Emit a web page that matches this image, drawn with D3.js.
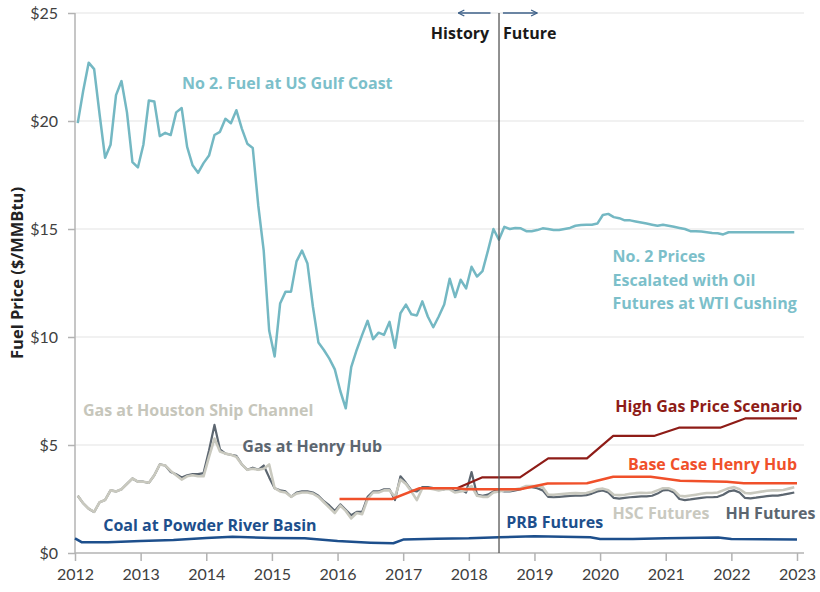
<!DOCTYPE html>
<html>
<head>
<meta charset="utf-8">
<script src="https://cdn.jsdelivr.net/npm/d3@7"></script>
<style>
  body { margin: 0; background: #fff; }
  text { font-family: Lato, "Open Sans", sans-serif; }
</style>
</head>
<body>
<script>
// Data ($/MMBtu)
var yearTicks = [2012, 2013, 2014, 2015, 2016, 2017, 2018, 2019, 2020, 2021, 2022, 2023];
var priceTicks = [0, 5, 10, 15, 20, 25];
var splitYear = 2018.46; // history / future divider

// monthly history Jan 2012 - Jun 2018
var no2History = [
  19.9, 21.4, 22.7, 22.4, 20.3, 18.3, 18.9, 21.2, 21.85, 20.4, 18.1, 17.85,
  18.9, 20.95, 20.9, 19.3, 19.45, 19.35, 20.4, 20.6, 18.8, 17.95, 17.6, 18.05,
  18.4, 19.35, 19.5, 20.1, 19.9, 20.5, 19.65, 18.95, 18.75, 16.1, 14.0, 10.3,
  9.1, 11.55, 12.1, 12.1, 13.5, 14.0, 13.4, 11.4, 9.75, 9.4, 9.0, 8.5,
  7.5, 6.7, 8.6, 9.4, 10.1, 10.75, 9.9, 10.2, 10.1, 10.7, 9.5, 11.1,
  11.5, 11.05, 11.0, 11.65, 10.95, 10.45, 10.95, 11.5, 12.7, 11.85, 12.65, 12.25,
  13.25, 12.8, 13.05, 14.0, 15.0, 14.5
];
var hscHistory = [
  2.65, 2.3, 2.05, 1.9, 2.35, 2.45, 2.9, 2.85, 2.95, 3.2, 3.45, 3.3,
  3.3, 3.25, 3.6, 4.1, 4.05, 3.8, 3.6, 3.4, 3.55, 3.6, 3.55, 3.55,
  4.45, 5.3, 4.7, 4.6, 4.55, 4.45, 4.1, 3.85, 3.9, 3.85, 3.9, 4.1,
  3.0, 2.85, 2.8, 2.6, 2.75, 2.8, 2.8, 2.75, 2.6, 2.35, 2.1, 1.85,
  2.2, 1.95, 1.6, 1.85, 1.8, 2.5, 2.8, 2.8, 2.9, 2.9, 2.6, 3.4,
  3.2, 2.85, 2.45, 3.0, 3.0, 2.95, 2.9, 2.95, 2.95, 2.8, 2.85, 2.9,
  3.1, 2.65, 2.6, 2.6, 2.8, 2.85
];
var hhHistory = [
  2.65, 2.3, 2.05, 1.9, 2.35, 2.45, 2.9, 2.85, 2.95, 3.2, 3.45, 3.3,
  3.3, 3.25, 3.6, 4.1, 4.05, 3.75, 3.65, 3.5, 3.6, 3.65, 3.65, 3.7,
  4.75, 5.93, 4.8, 4.6, 4.55, 4.5, 4.1, 3.85, 3.95, 3.85, 4.05, 3.5,
  3.0, 2.9, 2.85, 2.6, 2.8, 2.85, 2.85, 2.8, 2.65, 2.4, 2.2, 1.95,
  2.25, 2.0, 1.75, 1.9, 1.9, 2.6, 2.85, 2.85, 2.95, 2.95, 2.45, 3.55,
  3.25, 2.9, 2.85, 3.05, 3.05, 3.0, 2.95, 2.95, 3.0, 2.85, 2.95, 2.8,
  3.75, 2.7, 2.65, 2.7, 2.85, 2.9
];

// monthly futures Jul 2018 - Dec 2022
var no2Futures = [
  15.1, 15.0, 15.05, 15.03, 14.9, 14.9,
  14.95, 15.03, 15.0, 14.95, 14.95, 15.0, 15.05, 15.15, 15.18, 15.2, 15.2, 15.25,
  15.65, 15.7, 15.55, 15.5, 15.4, 15.4, 15.35, 15.3, 15.25, 15.2, 15.15, 15.2,
  15.15, 15.1, 15.05, 15.0, 14.9, 14.9, 14.88, 14.85, 14.82, 14.8, 14.75, 14.85,
  14.85, 14.85, 14.85, 14.85, 14.85, 14.85, 14.85, 14.85, 14.85, 14.85, 14.85, 14.85
];
var hscFutures = [
  2.9, 2.9, 2.95, 3.0, 3.1, 3.1,
  3.1, 3.05, 2.7, 2.7, 2.72, 2.74, 2.76, 2.77, 2.76, 2.78, 2.85, 2.95,
  2.98, 2.9, 2.7, 2.68, 2.7, 2.74, 2.77, 2.79, 2.78, 2.8, 2.9, 3.0,
  3.0, 2.9, 2.65, 2.62, 2.66, 2.7, 2.74, 2.78, 2.78, 2.8, 2.9, 3.0,
  3.05, 2.95, 2.78, 2.76, 2.8, 2.84, 2.88, 2.9, 2.9, 2.92, 2.98, 3.04
];
var hhFutures = [
  2.85, 2.85, 2.9, 2.95, 3.05, 3.05,
  3.0, 2.9, 2.6, 2.58, 2.6, 2.62, 2.64, 2.66, 2.65, 2.68, 2.75, 2.85,
  2.9, 2.8, 2.55, 2.52, 2.55, 2.58, 2.6, 2.62, 2.62, 2.65, 2.75, 2.9,
  2.92, 2.8, 2.5, 2.45, 2.48, 2.52, 2.55, 2.58, 2.58, 2.6, 2.7, 2.85,
  2.9, 2.8, 2.55, 2.53, 2.56, 2.6, 2.63, 2.66, 2.66, 2.7, 2.75, 2.8
];

// scenario lines (year, value)
var baseCaseYears  = [2016.03, 2016.83, 2017.25, 2017.82, 2017.97, 2018.78, 2019.2, 2019.8, 2020.2, 2020.77, 2021.22, 2021.93, 2022.19, 2023.0];
var baseCaseValues = [2.5, 2.5, 3.0, 3.0, 2.95, 2.95, 3.22, 3.23, 3.53, 3.53, 3.35, 3.3, 3.23, 3.23];
var highGasYears  = [2017.82, 2018.2, 2018.78, 2019.21, 2019.8, 2020.2, 2020.82, 2021.2, 2021.83, 2022.21, 2023.0];
var highGasValues = [3.0, 3.5, 3.5, 4.38, 4.38, 5.42, 5.42, 5.8, 5.8, 6.23, 6.23];

// coal at Powder River Basin + PRB futures (year, value)
var coalYears  = [2012.0, 2012.1, 2012.5, 2013.0, 2013.5, 2014.0, 2014.4, 2015.0, 2015.5, 2016.0, 2016.5, 2016.85, 2017.0, 2017.5, 2018.0, 2018.46];
var coalValues = [0.68, 0.5, 0.5, 0.55, 0.6, 0.7, 0.75, 0.7, 0.68, 0.55, 0.48, 0.45, 0.62, 0.66, 0.68, 0.73];
var prbYears  = [2019.0, 2019.85, 2020.0, 2020.5, 2021.0, 2021.8, 2022.0, 2023.0];
var prbValues = [0.78, 0.73, 0.65, 0.65, 0.68, 0.72, 0.65, 0.63];

// Layout
var W = 820, H = 592;
var margin = { top: 13, right: 23, bottom: 39, left: 75 };
var labelFont = '"Open Sans", sans-serif';

var svg = d3.select('body').append('svg')
    .attr('width', W)
    .attr('height', H);

var x = d3.scaleLinear().domain([2012, 2023]).range([margin.left, W - margin.right]);
var y = d3.scaleLinear().domain([0, 25]).range([H - margin.bottom, margin.top]);

function monthly(values, startYear, startMonth) {
  return values.map(function (v, i) {
    return [startYear + (startMonth + i + 0.5) / 12, v];
  });
}
function paired(years, values) {
  return years.map(function (t, i) { return [t, values[i]]; });
}

var no2 = monthly(no2History, 2012, 0).concat(monthly(no2Futures, 2018, 6));
var hsc = monthly(hscHistory, 2012, 0).concat(monthly(hscFutures, 2018, 6));
var hh = monthly(hhHistory, 2012, 0).concat(monthly(hhFutures, 2018, 6));
var coal = paired(coalYears, coalValues).concat(paired(prbYears, prbValues));
var baseCase = paired(baseCaseYears, baseCaseValues);
var highGas = paired(highGasYears, highGasValues);

// gridlines
svg.append('g')
  .selectAll('line')
  .data(priceTicks.filter(function (d) { return d > 0; }))
  .enter().append('line')
    .attr('x1', x(2012)).attr('x2', x(2023) + 7)
    .attr('y1', function (d) { return y(d); })
    .attr('y2', function (d) { return y(d); })
    .attr('stroke', '#ededed')
    .attr('stroke-width', 1.5);

// axes
var yAxis = d3.axisLeft(y).tickValues(priceTicks).tickSize(7).tickPadding(10)
  .tickFormat(function (d) { return '$' + d; });
var xAxis = d3.axisBottom(x).tickValues(yearTicks).tickSize(8).tickPadding(8)
  .tickFormat(d3.format('d'));

var gy = svg.append('g')
    .attr('transform', 'translate(' + margin.left + ',0)')
    .call(yAxis);
var gx = svg.append('g')
    .attr('transform', 'translate(0,' + (H - margin.bottom) + ')')
    .call(xAxis);
[gx, gy].forEach(function (g) {
  g.select('.domain').attr('stroke', '#b3b3b3').attr('stroke-width', 1.5);
  g.selectAll('.tick line').attr('stroke', '#b3b3b3').attr('stroke-width', 1.5);
  g.selectAll('.tick text')
    .attr('fill', '#404040')
    .style('font-size', '16px')
    .style('font-family', 'Lato, sans-serif');
});
gy.select('.domain').attr('d', 'M0,' + y(0) + 'V' + y(25));
gx.select('.domain').attr('d', 'M' + x(2012) + ',0H' + (x(2023) + 7));

// y axis title
svg.append('text')
  .attr('transform', 'translate(23,273) rotate(-90)')
  .attr('text-anchor', 'middle')
  .attr('fill', '#222')
  .style('font-family', labelFont)
  .style('font-size', '16.5px')
  .style('font-weight', 'bold')
  .text('Fuel Price ($/MMBtu)');

// lines
var line = d3.line()
  .x(function (d) { return x(d[0]); })
  .y(function (d) { return y(d[1]); });

function drawLine(data, color, width) {
  svg.append('path')
    .datum(data)
    .attr('fill', 'none')
    .attr('stroke', color)
    .attr('stroke-width', width)
    .attr('stroke-linejoin', 'round')
    .attr('d', line);
}

drawLine(coal, '#1d4f8c', 2.5);
drawLine(hh, '#5c6670', 2.2);
drawLine(hsc, '#c9c9bf', 2.6);
drawLine(highGas, '#8e1c17', 2.2);
drawLine(baseCase, '#f0502a', 2.5);
drawLine(no2, '#74b8c3', 2.5);

// history / future divider
svg.append('line')
  .attr('x1', x(splitYear)).attr('x2', x(splitYear))
  .attr('y1', y(25)).attr('y2', y(0))
  .attr('stroke', '#555')
  .attr('stroke-width', 1.3);

svg.append('defs').append('marker')
    .attr('id', 'arrow')
    .attr('viewBox', '0 0 10 10')
    .attr('refX', 9).attr('refY', 5)
    .attr('markerWidth', 5).attr('markerHeight', 5)
    .attr('orient', 'auto')
  .append('path')
    .attr('d', 'M1,1L9,5L1,9')
    .attr('fill', 'none')
    .attr('stroke', '#3e6189')
    .attr('stroke-width', 1.8);

[[2018.33, 2017.84], [2018.52, 2019.04]].forEach(function (a) {
  svg.append('line')
    .attr('x1', x(a[0])).attr('x2', x(a[1]))
    .attr('y1', y(25)).attr('y2', y(25))
    .attr('stroke', '#3e6189')
    .attr('stroke-width', 1.5)
    .attr('marker-end', 'url(#arrow)');
});

// labels
function label(t, v, txt, color, anchor) {
  return svg.append('text')
    .attr('x', x(t))
    .attr('y', y(v))
    .attr('text-anchor', anchor || 'start')
    .attr('fill', color)
    .style('font-family', labelFont)
    .style('font-size', '16px')
    .style('font-weight', 'bold')
    .text(txt);
}

label(2018.31, 23.8, 'History', '#1a1a1a', 'end');
label(2018.52, 23.8, 'Future', '#1a1a1a');
label(2013.63, 21.48, 'No 2. Fuel at US Gulf Coast', '#7cbfca');

var multi = svg.append('text')
  .attr('x', x(2020.19))
  .attr('y', y(13.47))
  .attr('fill', '#7cbfca')
  .style('font-family', labelFont)
  .style('font-size', '16px')
  .style('font-weight', 'bold');
['No. 2 Prices', 'Escalated with Oil', 'Futures at WTI Cushing'].forEach(function (s, i) {
  multi.append('tspan')
    .attr('x', x(2020.19))
    .attr('dy', i === 0 ? 0 : 23.5)
    .text(s);
});

label(2012.12, 6.34, 'Gas at Houston Ship Channel', '#c6c6bb');
label(2014.55, 4.68, 'Gas at Henry Hub', '#5c6670');
label(2012.43, 1.02, 'Coal at Powder River Basin', '#1d4f8c');
label(2018.57, 1.16, 'PRB Futures', '#1d4f8c');
label(2020.19, 1.57, 'HSC Futures', '#c9c9bf');
label(2021.91, 1.57, 'HH Futures', '#5c6670');
label(2023.08, 6.53, 'High Gas Price Scenario', '#8e1c17', 'end');
label(2023.0, 3.84, 'Base Case Henry Hub', '#f0502a', 'end');
</script>
</body>
</html>
